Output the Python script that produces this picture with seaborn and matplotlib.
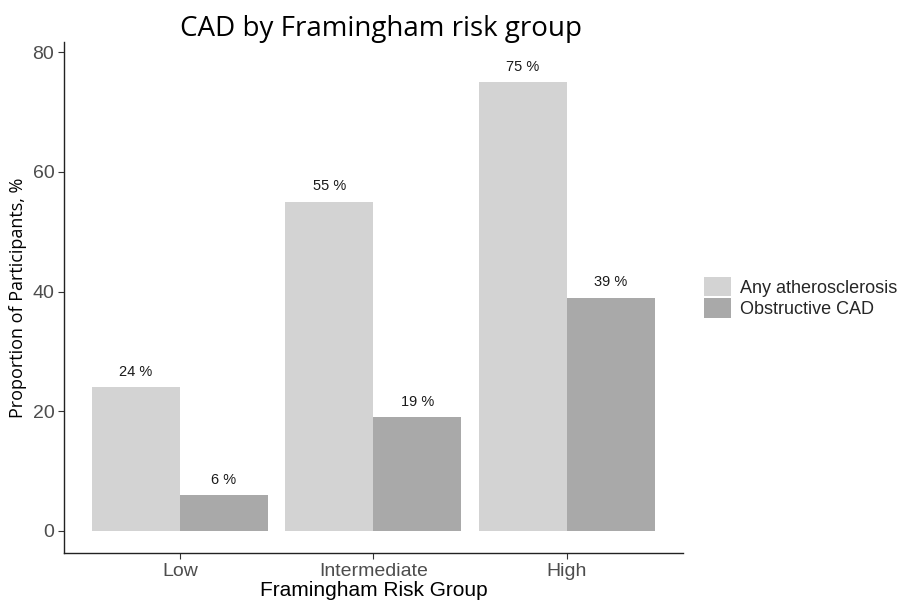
import pandas as pd
import matplotlib
matplotlib.use('Agg')
import matplotlib.pyplot as plt
import seaborn as sns

# --- DATA ---
risk_groups = ['Low', 'Intermediate', 'High']
series_names = ['Any atherosclerosis', 'Obstructive CAD']
any_athero = [24, 55, 75]
obstructive_cad = [6, 19, 39]
y_ticks = [0, 20, 40, 60, 80]

df = pd.DataFrame({
    'group': risk_groups * 2,
    'series': [series_names[0]] * 3 + [series_names[1]] * 3,
    'value': any_athero + obstructive_cad,
})

# --- STYLE ---
sns.set_style('white')
plt.rcParams['font.family'] = ['Liberation Sans', 'DejaVu Sans']

fig = plt.figure(figsize=(9.07, 6.04), dpi=100)
ax = fig.add_axes([0.0706, 0.0844, 0.682, 0.846])

palette = {series_names[0]: '#d3d3d3', series_names[1]: '#a9a9a9'}
sns.barplot(data=df, x='group', y='value', hue='series', order=risk_groups,
            hue_order=series_names, palette=palette, width=0.91,
            saturation=1, linewidth=0, ax=ax)

# value labels above bars
for container in ax.containers:
    ax.bar_label(container, labels=[f'{v:.0f} %' for v in container.datavalues],
                 padding=6, fontsize=10.5, color='#1a1a1a')

ax.set_xlim(-0.6, 2.6)
ax.set_ylim(-3.7, 81.7)
ax.set_yticks(y_ticks)
ax.tick_params(axis='both', labelsize=14, colors='#333333', length=4,
               width=0.8, direction='out', left=True, bottom=True, pad=3)
for lab in ax.get_xticklabels() + ax.get_yticklabels():
    lab.set_color('#4d4d4d')

for side in ['top', 'right']:
    ax.spines[side].set_visible(False)
for side in ['left', 'bottom']:
    ax.spines[side].set_color('#222222')
    ax.spines[side].set_linewidth(1.0)

ax.set_xlabel('Framingham Risk Group', fontsize=15, color='black', labelpad=1)
ax.set_ylabel('Proportion of Participants, %', fontsize=13, color='black',
              labelpad=4, family=['Open Sans', 'DejaVu Sans'])

leg = ax.legend(title=None, frameon=False, loc='center left',
                bbox_to_anchor=(1.006, 0.5), fontsize=13, borderaxespad=0.6,
                handlelength=1.5, handleheight=1.3, handletextpad=0.45,
                labelspacing=0.1)

fig.text(0.42, 0.952, 'CAD by Framingham risk group', ha='center', va='center',
         fontsize=20, color='black', family=['Open Sans', 'DejaVu Sans'])

plt.savefig('out.png', dpi=100)
